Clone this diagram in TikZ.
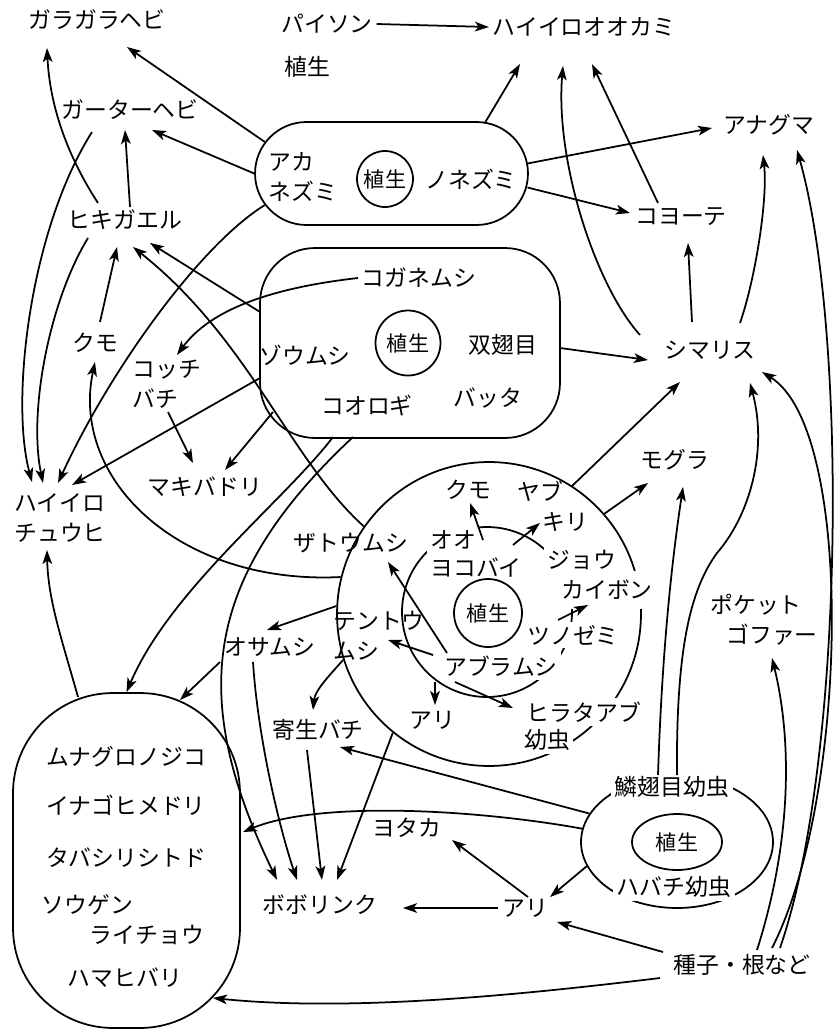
\documentclass[tikz,border=0pt]{standalone}
\usepackage{fontspec}
\setmainfont{Noto Sans CJK JP}
\usetikzlibrary{arrows.meta,shapes.misc,shapes.geometric,calc}
\tikzset{
  lab/.style={font=\fontsize{13}{17}\selectfont, inner sep=2pt},
  wlab/.style={lab, fill=white},
  vlab/.style={font=\fontsize{12}{14}\selectfont, draw, line width=1pt, inner sep=0pt},
  grp/.style={draw, line width=1pt, inner sep=0pt},
  arr/.style={-{Stealth[length=8pt,width=5.5pt,inset=2pt]}, line width=1pt},
}
\begin{document}
\begin{tikzpicture}[x=0.02cm,y=0.02cm]
\fill[white] (0,0) rectangle (834,-1031);
\useasboundingbox (0,0) rectangle (834,-1031);

% ---------- group shapes ----------
\node[grp, rounded rectangle, minimum width=5.46cm, minimum height=2.06cm] (mbox) at (391.5,-173.5) {};
\node[grp, rectangle, rounded corners=1.1cm, minimum width=6cm, minimum height=3.8cm] (ibox) at (410,-343) {};
\node[grp, circle, minimum size=6.08cm] (oc) at (489,-614) {};
\node[grp, circle, minimum size=3.4cm] (ic) at (487,-612) {};
\node[grp, rectangle, rounded corners=2cm, minimum width=4.54cm, minimum height=6.7cm] (bbox) at (126.5,-860.5) {};
\node[grp, ellipse, minimum width=3.84cm, minimum height=2.64cm] (lb) at (677,-842) {};

% vegetation
\node[vlab, circle, minimum size=1.12cm] (mveg) at (385,-179) {植生};
\node[vlab, circle, minimum size=1.3cm] (iveg) at (408,-343) {植生};
\node[vlab, circle, minimum size=1.36cm, fill=white] (cveg) at (488,-613) {植生};
\node[vlab, ellipse, minimum width=1.8cm, minimum height=1.12cm] (lveg) at (677,-842) {植生};

% ---------- labels ----------
\node[lab] (gara) at (97,-20) {ガラガラヘビ};
\node[lab] (python) at (327,-24) {パイソン};
\node[lab] (wolf) at (584,-27) {ハイイロオオカミ};
\node[lab] (veg0) at (307,-67) {植生};
\node[lab] (garter) at (130,-110) {ガーターヘビ};
\node[lab] (badger) at (769,-125) {アナグマ};
\node[lab] (coyote) at (681,-217) {コヨーテ};
\node[lab] (toad) at (125,-220) {ヒキガエル};
\node[lab, align=left] (akanezumi) at (303,-177) {アカ\\ネズミ};
\node[lab] (nonezumi) at (471,-179) {ノネズミ};
\node[lab] (kogane) at (419,-278) {コガネムシ};
\node[lab] (zoumushi) at (305,-355) {ゾウムシ};
\node[lab] (souji) at (503,-345) {双翅目};
\node[lab] (koorogi) at (367,-405) {コオロギ};
\node[lab] (batta) at (488,-398) {バッタ};
\node[lab] (chip) at (710,-350) {シマリス};
\node[lab] (spiderL) at (95,-343) {クモ};
\node[lab, align=left] (kottchi) at (167,-384) {コッチ\\バチ};
\node[lab, align=left] (harrier) at (60,-518) {ハイイロ\\チュウヒ};
\node[lab] (makiba) at (205,-487) {マキバドリ};
\node[lab] (mole) at (675,-460) {モグラ};

\node[lab] (kumoC) at (468,-490) {クモ};
\node[lab, align=left, inner sep=1pt] (yabu) at (553,-506) {ヤブ\\\hspace*{0.5cm}キリ};
\node[lab] (zato) at (351,-543) {ザトウムシ};
\node[wlab] (oo) at (453,-540) {オオ};
\node[lab] (yokobai) at (476,-567) {ヨコバイ};
\node[wlab] (jou) at (582,-560) {ジョウ};
\node[wlab, inner ysep=5pt] (kaibon) at (607,-590) {カイボン};
\node[lab, align=left] (tento) at (379,-636) {テントウ\\ムシ};
\node[wlab] (tsuno) at (573,-635) {ツノゼミ};
\node[wlab] (abura) at (501,-666) {アブラムシ};
\node[lab] (ariC) at (432,-720) {アリ};
\node[wlab] (hirata) at (584,-712) {ヒラタアブ};
\node[wlab] (youchu) at (547,-740) {幼虫};
\node[lab] (osamushi) at (270,-647) {オサムシ};
\node[lab] (kisei) at (318,-730) {寄生バチ};
\node[lab, align=left] (gopher) at (764,-620) {ポケット\\\hspace*{0.32cm}ゴファー};

\node[lab] (munaguro) at (126,-757) {ムナグロノジコ};
\node[lab] (inago) at (126,-805) {イナゴヒメドリ};
\node[lab] (tabashiri) at (126,-858) {タバシリシトド};
\node[lab, align=left] (sougen) at (123,-920) {ソウゲン\\\hspace*{0.96cm}ライチョウ};
\node[lab] (hamahibari) at (125,-978) {ハマヒバリ};

\node[lab] (yotaka) at (407,-828) {ヨタカ};
\node[lab] (bobo) at (320,-905) {ボボリンク};
\node[lab] (ariB) at (525,-908) {アリ};
\node[wlab] (rinshi) at (672,-787) {鱗翅目幼虫};
\node[wlab] (habachi) at (674,-887) {ハバチ幼虫};
\node[lab] (seed) at (742,-965) {種子・根など};

% ---------- connectors ----------
\draw[arr] (python.east) -- (wolf.west);
\draw[arr] (mbox.166) -- ($(gara)+(30,-27)$);
\draw[arr] (mbox.west) -- ($(garter)+(22,-20)$);
\draw[arr] ($(mbox)+(93,50)$) -- ($(wolf)+(-64,-37)$);
\draw[arr] ($(mbox)+(136,10)$) -- ($(badger)+(-57,-3)$);
\draw[arr] ($(mbox)+(136,-14)$) -- ($(coyote)+(-51,4)$);
\draw[arr] ($(chip)+(-70,15)$) .. controls (595,-285) and (555,-160) .. ($(wolf)+(-21,-39)$);
\draw[arr] ($(coyote)+(-23,14)$) -- ($(wolf)+(8,-37)$);
\draw[arr] ($(chip)+(-18,28)$) -- ($(coyote)+(7,-26)$);
\draw[arr] ($(chip)+(30,27)$) .. controls (755,-280) and (768,-200) .. ($(badger)+(-6,-30)$);
\draw[arr] ($(seed)+(38,17)$) .. controls (845,-760) and (848,-330) .. ($(badger)+(28,-25)$);
\draw[arr] ($(ibox)+(150,-5)$) -- ($(chip)+(-62,-10)$);
\draw[arr] (oc.57) -- ($(chip)+(-30,-32)$);
\draw[arr] (oc.41) -- ($(mole)+(-27,-23)$);
\draw[arr] ($(rinshi)+(-14,12)$) .. controls (662,-650) and (672,-560) .. ($(mole)+(8,-27)$);
\draw[arr] ($(rinshi)+(5,12)$) .. controls (676,-650) and (690,-590) .. (717,-553) .. controls (750,-515) and (768,-450) .. ($(chip)+(40,-33)$);
\draw[arr] ($(seed)+(30,17)$) .. controls (848,-800) and (856,-430) .. ($(chip)+(52,-22)$);
\draw[arr] ($(seed)+(15,15)$) .. controls (792,-840) and (792,-740) .. ($(gopher)+(8,-38)$);

\draw[arr] ($(toad)+(-27,17)$) .. controls (70,-160) and (50,-110) .. ($(gara)+(-50,-28)$);
\draw[arr] ($(toad)+(5,13)$) -- ($(garter)+(-5,-20)$);
\draw[arr] ($(garter)+(-38,-22)$) .. controls (30,-230) and (10,-400) .. ($(harrier)+(-28,36)$);
\draw[arr] ($(toad)+(-37,-18)$) .. controls (50,-300) and (28,-410) .. ($(harrier)+(-17,35)$);
\draw[arr] ($(spiderL)+(5,21)$) -- ($(toad)+(-8,-27)$);
\draw[arr] ($(ibox)+(-150,31)$) -- ($(toad)+(25,-23)$);
\draw[arr] (oc.145) .. controls (290,-460) and (250,-340) .. ($(toad)+(8,-27)$);
\draw[arr] (mbox.194) .. controls (200,-245) and (110,-370) .. ($(harrier)+(-2,35)$);
\draw[arr] (oc.166) .. controls (180,-585) and (70,-480) .. ($(spiderL)+(0,-19)$);
\draw[arr] ($(ibox)+(-150,-35)$) -- ($(harrier)+(12,33)$);
\draw[arr] (kogane.west) .. controls (270,-288) and (210,-310) .. ($(kottchi)+(10,29)$);
\draw[arr] ($(kottchi)+(1,-28)$) -- ($(makiba)+(-12,24)$);
\draw[arr] ($(ibox)+(-137,-69)$) -- ($(makiba)+(20,17)$);
\draw[arr] ($(ibox)+(-77,-94)$) .. controls (285,-500) and (170,-590) .. (bbox.north);
\draw[arr] ($(ibox)+(-57,-94)$) .. controls (200,-580) and (190,-700) .. ($(bobo)+(-43,25)$);

\draw[arr] (oc.177) -- ($(osamushi)+(-3,17)$);
\draw[arr] ($(osamushi)+(-50,-15)$) -- ($(bbox)+(53.5,160.5)$);
\draw[arr] ($(osamushi)+(-17,-15)$) .. controls (258,-740) and (280,-830) .. ($(bobo)+(-23,25)$);
\draw[arr] ($(kisei)+(-11,-20)$) -- ($(bobo)+(2,25)$);
\draw[arr] (oc.231) -- ($(bobo)+(17,25)$);
\draw[arr] ($(tento)+(-36,-24)$) .. controls (330,-675) and (315,-690) .. ($(kisei)+(-5,20)$);
\draw[arr] (lb.162) -- ($(kisei)+(22,-17)$);
\draw[arr] (lb.172) .. controls (480,-810) and (320,-800) .. ($(bbox)+(116.5,28.5)$);
\draw[arr] (ariB.west) -- ($(bobo)+(83,-3)$);
\draw[arr] ($(ariB)+(3,11)$) -- ($(yotaka)+(45,-12)$);
\draw[arr] (lb.195) -- ($(ariB)+(25,11)$);
\draw[arr] ($(seed)+(-79,13)$) -- ($(ariB)+(32,-14)$);
\draw[arr] ($(seed)+(-82,-13)$) .. controls (520,-995) and (350,-1012) .. ($(bbox)+(86.5,-137.5)$);
\draw[arr] ($(bbox)+(-48.5,163.5)$) .. controls (62,-640) and (48,-600) .. ($(harrier)+(-13,-32)$);

\draw[arr] ($(ic)+(-4,72)$) -- ($(kumoC)+(2,-13)$);
\draw[arr] ($(ic)+(26,67)$) -- ($(yabu)+(-13,-17)$);
\draw[arr] ($(tsuno)+(-15,15)$) -- ($(kaibon)+(-19,-15)$);
\draw[arr] ($(abura)+(-54,13)$) -- ($(zato)+(37,-19)$);
\draw[arr] ($(abura)+(-68,11)$) -- ($(tento)+(9,-4)$);
\draw[arr] ($(abura)+(-66,-16)$) -- ($(ariC)+(3,15)$);
\draw[arr] ($(abura)+(-46,-16)$) -- ($(hirata)+(-71,4)$);
\end{tikzpicture}
\end{document}
